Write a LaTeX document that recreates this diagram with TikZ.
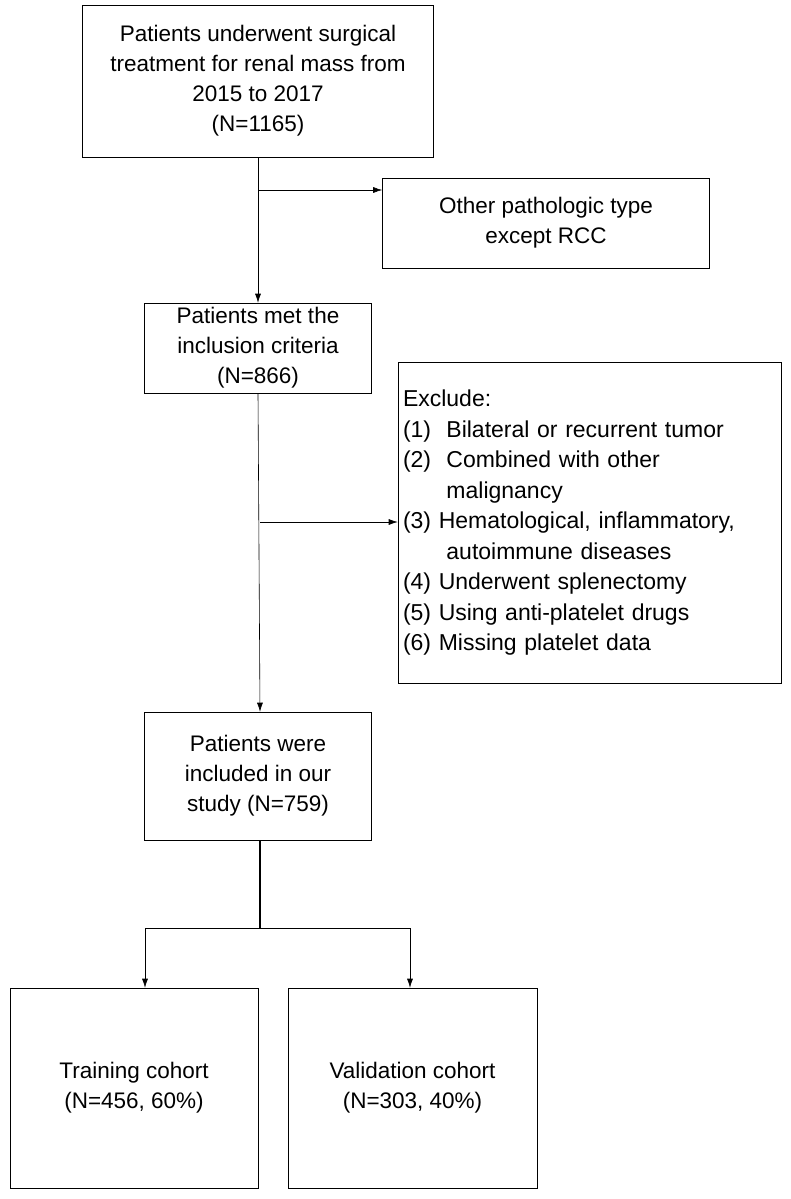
\documentclass[tikz,border=0pt]{standalone}
\usepackage{fontspec}
\setmainfont{Liberation Sans}
\usetikzlibrary{positioning,arrows.meta}
\tikzset{
  box/.style={draw, semithick, align=center, inner sep=0pt, font=\fontsize{22.5}{30}\selectfont},
  arr/.style={-{Latex[length=9pt,width=6pt]}, semithick},
}
\begin{document}
\begin{tikzpicture}[x=1pt,y=-1pt]
\useasboundingbox (0,0) rectangle (790,1199);
\node [box, minimum width=351, minimum height=152] (top) at (258,81) {Patients underwent surgical\\treatment for renal mass from\\2015 to 2017\\(N=1165)};
\node [box, minimum width=327, minimum height=90] (other) at (546,223) {Other pathologic type\\except RCC};
\node [box, minimum width=227, minimum height=90] (incl) at (258,348) {Patients met the\\inclusion criteria\\(N=866)};
\node [box, minimum width=383, minimum height=321, align=left, text width=373, inner xsep=5, font=\fontsize{23}{30.5}\selectfont] (excl) at (589.5,522.5) {%
\begin{tabular}{@{}l@{\ }l@{}}
\multicolumn{2}{@{}l}{Exclude:}\\
(1) & \ Bilateral or recurrent tumor\\
(2) & \ Combined with other\\
    & \ malignancy\\
(3) & Hematological, inflammatory,\\
    & \ autoimmune diseases\\
(4) & Underwent splenectomy\\
(5) & Using anti-platelet drugs\\
(6) & Missing platelet data
\end{tabular}};
\node [box, minimum width=227, minimum height=128] (study) at (258,776) {Patients were\\included in our\\study (N=759)};
\node [box, minimum width=248, minimum height=200] (train) at (134,1088) {Training cohort\\(N=456, 60\%)};
\node [box, minimum width=249, minimum height=200] (valid) at (412.5,1088) {Validation cohort\\(N=303, 40\%)};

\coordinate (b1) at (258,190);
\coordinate (b2) at (260,522);
\coordinate (b3) at (260,928);
\coordinate (bl) at (145,928);
\coordinate (br) at (410,928);

\draw [arr] (top.south) -- (incl.north);
\draw [arr] (b1) -- (b1 -| other.west);
\draw [arr] (incl.south) -- (study.north -| b2);
\draw [arr] (b2) -- (b2 -| excl.west);
\draw [line width=2.5pt] (study.south -| b3) -- (b3);
\draw [semithick] (bl) -- (br);
\draw [arr] (bl) -- (bl |- train.north);
\draw [arr] (br) -- (br |- valid.north);
\end{tikzpicture}
\end{document}
